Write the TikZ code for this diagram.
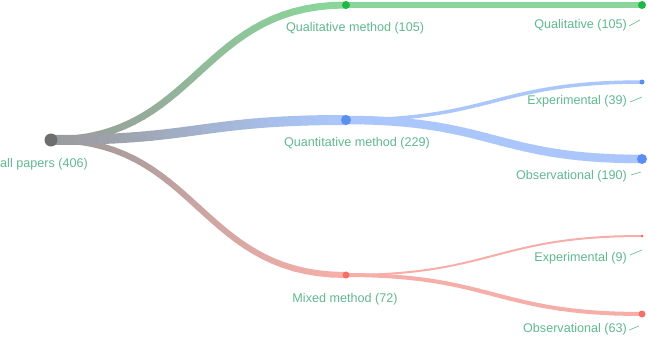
\documentclass[tikz,border=0pt]{standalone}
\usepackage{fontspec}
\setmainfont{Liberation Sans}
\usepackage{tikz}
\usetikzlibrary{calc,backgrounds}

\definecolor{labc}{HTML}{60B890}
\definecolor{greyedge}{HTML}{9A9A9A}
\definecolor{greydot}{HTML}{6E6E6E}
\definecolor{greenedge}{HTML}{8AD69A}
\definecolor{greendot}{HTML}{1DB944}
\definecolor{blueedge}{HTML}{AAC6FA}
\definecolor{bluedot}{HTML}{5A8FF2}
\definecolor{rededge}{HTML}{F6AEA9}
\definecolor{reddot}{HTML}{F47068}

% #1 from, #2 to, #3 width, #4 start colour, #5 end colour
\newcommand{\branch}[5]{%
  \foreach \k in {0,...,30}{%
    \path (#1.center) .. controls +(147,0) and +(-147,0) .. (#2.center) coordinate[pos=\k/30] (#1#2-\k);}%
  \foreach \k [count=\j from 0] in {1,...,30}{%
    \pgfmathtruncatemacro{\mix}{100*\k/30}%
    \draw[line width=#3pt,line cap=round,color=#5!\mix!#4] (#1#2-\j) -- (#1#2-\k);}%
}

\begin{document}
\begin{tikzpicture}[x=1pt,y=-1pt,
    ele/.style={circle,inner sep=0pt,minimum size=#1},
    lab/.style={text=labc,inner sep=0pt,font=\fontsize{12.6}{15}\selectfont},
    lead/.style={draw=labc,line width=0.6pt}]
  \useasboundingbox (0,0) rectangle (648,340);

  \node[ele=13pt,fill=greydot] (r0) at (51,140) {};
  \node[ele=8pt,fill=greendot] (m1) at (346,5) {};
  \node[ele=10pt,fill=bluedot] (m2) at (346,120) {};
  \node[ele=7pt,fill=reddot] (m3) at (346,275) {};

  \node[ele=8pt,fill=greendot] (l1) at (642,5) {};
  \node[ele=5pt,fill=bluedot] (l2) at (642,82) {};
  \node[ele=10pt,fill=bluedot] (l3) at (642,159) {};
  \node[ele=3pt,fill=reddot] (l4) at (642,236) {};
  \node[ele=7pt,fill=reddot] (l5) at (642,314) {};

  \begin{scope}[on background layer]
    \branch{r0}{m3}{6}{greyedge}{rededge}
    \branch{r0}{m1}{7}{greyedge}{greenedge}
    \branch{r0}{m2}{10}{greyedge}{blueedge}
    \branch{m1}{l1}{5.5}{greenedge}{greenedge}
    \branch{m2}{l2}{3.5}{blueedge}{blueedge}
    \branch{m2}{l3}{8.5}{blueedge}{blueedge}
    \branch{m3}{l4}{2}{rededge}{rededge}
    \branch{m3}{l5}{4}{rededge}{rededge}
  \end{scope}

  \node[lab,anchor=west] (t0) at (0,164) {all papers (406)};
  \node[lab] (t1) at (355,28) {Qualitative method (105)};
  \node[lab] (t2) at (357,143) {Quantitative method (229)};
  \node[lab] (t3) at (345,299) {Mixed method (72)};

  \node[lab,anchor=east] (t4) at (627,25) {Qualitative (105)};
  \node[lab,anchor=east] (t5) at (627,101) {Experimental (39)};
  \node[lab,anchor=east] (t6) at (627,176) {Observational (190)};
  \node[lab,anchor=east] (t7) at (627,258) {Experimental (9)};
  \node[lab,anchor=east] (t8) at (627,329) {Observational (63)};

  \coordinate (e4) at (640,20);
  \coordinate (e5) at (642,97);
  \coordinate (e6) at (641,172);
  \coordinate (e7) at (642,250);
  \coordinate (e8) at (639,326);
  \draw[lead] ([xshift=2pt,yshift=-1pt]t4.east) -- (e4);
  \draw[lead] ([xshift=3pt,yshift=-1pt]t5.east) -- (e5);
  \draw[lead] ([xshift=4pt,yshift=1pt]t6.east) -- (e6);
  \draw[lead] ([xshift=3pt,yshift=3pt]t7.east) -- (e7);
  \draw[lead] ([xshift=2pt,yshift=-1pt]t8.east) -- (e8);
\end{tikzpicture}
\end{document}
